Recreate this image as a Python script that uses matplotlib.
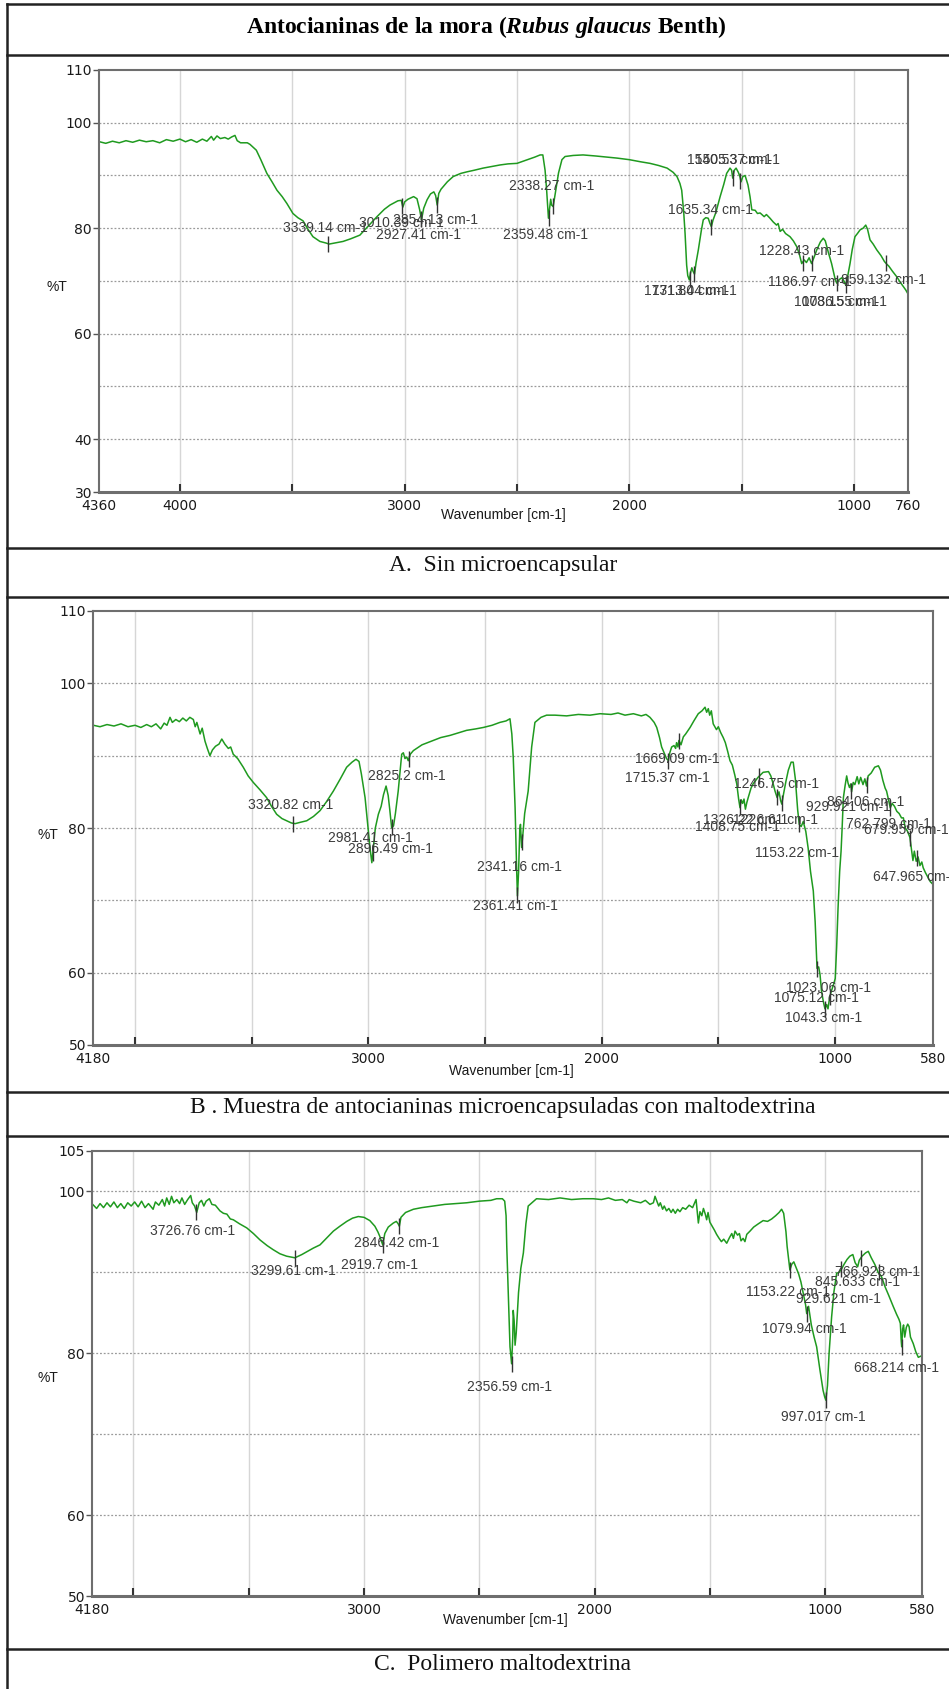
import numpy as np
import matplotlib.pyplot as plt
from matplotlib.transforms import Affine2D
from matplotlib.lines import Line2D

# espectro A - sin microencapsular
wn_a = [4358, 4330, 4300, 4270, 4240, 4210, 4180, 4150, 4120, 4090, 4060, 4030, 4000, 3975, 3950,
        3925, 3900, 3880, 3860, 3850, 3835, 3820, 3800, 3785, 3770, 3755, 3745, 3730, 3700, 3688,
        3660, 3640, 3613, 3590, 3568, 3545, 3524, 3497, 3475, 3452, 3430, 3408, 3377, 3350, 3336,
        3300, 3274, 3240, 3199, 3160, 3123, 3090, 3065, 3030, 3015, 3008, 3000, 2985, 2960, 2945,
        2933, 2925, 2915, 2900, 2885, 2870, 2862, 2855, 2848, 2838, 2810, 2784, 2750, 2722, 2690,
        2651, 2600, 2575, 2540, 2500, 2460, 2420, 2397, 2385, 2375, 2368, 2360, 2350, 2346, 2339,
        2330, 2315, 2300, 2286, 2250, 2206, 2150, 2100, 2055, 2000, 1950, 1908, 1870, 1832, 1805,
        1788, 1775, 1767, 1758, 1752, 1745, 1740, 1733, 1728, 1722, 1716, 1710, 1703, 1693, 1680,
        1671, 1660, 1649, 1642, 1635, 1628, 1615, 1596, 1580, 1567, 1552, 1545, 1540, 1533, 1525,
        1515, 1508, 1503, 1495, 1485, 1472, 1463, 1455, 1440, 1430, 1418, 1400, 1390, 1374, 1360,
        1345, 1338, 1329, 1318, 1305, 1285, 1270, 1255, 1243, 1233, 1222, 1212, 1200, 1189, 1178,
        1166, 1150, 1137, 1128, 1115, 1100, 1085, 1077, 1065, 1055, 1045, 1037, 1028, 1018, 1008,
        996, 985, 973, 960, 948, 940, 929, 915, 899, 880, 865, 857, 845, 830, 810,
        795, 780, 770, 762]
t_a = [96.4, 96.1, 96.5, 96.2, 96.6, 96.3, 96.7, 96.4, 96.6, 96.2, 96.8, 96.5, 96.9, 96.4, 96.8,
       96.3, 96.9, 96.5, 97.4, 96.7, 97.5, 97.0, 97.2, 96.9, 97.3, 97.6, 96.6, 96.2, 96.2, 95.9,
       94.8, 93.0, 90.4, 88.8, 87.2, 86.0, 84.7, 82.8, 82.0, 81.4, 79.8, 78.4, 77.5, 77.2, 77.0,
       77.3, 77.5, 78.0, 78.7, 80.5, 82.2, 83.6, 84.4, 85.2, 85.3, 84.0, 85.0, 85.5, 86.0, 85.6,
       83.5, 81.6, 83.8, 85.4, 86.5, 86.9, 86.2, 84.4, 86.6, 87.4, 88.8, 89.8, 90.4, 90.7, 91.0,
       91.4, 91.8, 92.0, 92.2, 92.3, 92.9, 93.5, 93.9, 93.9, 91.0, 87.2, 81.9, 85.5, 84.4, 84.1,
       86.5, 90.5, 93.0, 93.6, 93.8, 93.9, 93.7, 93.5, 93.3, 93.0, 92.6, 92.3, 91.9, 91.4, 90.6,
       89.8, 88.5, 87.2, 83.0, 79.0, 73.0, 71.0, 70.2, 71.5, 72.5, 71.8, 71.3, 73.5, 75.9, 79.5,
       81.6, 82.0, 81.9, 81.0, 80.3, 81.5, 83.0, 86.0, 88.3, 90.4, 91.4, 91.0, 89.5, 91.0, 91.4,
       90.6, 89.8, 88.8, 89.8, 90.0, 88.2, 86.0, 83.5, 83.4, 82.8, 82.9, 82.2, 82.6, 81.9, 81.2,
       80.6, 80.9, 79.4, 79.8, 79.0, 78.4, 77.6, 76.5, 75.0, 73.3, 74.0, 73.5, 74.4, 73.3, 74.5,
       75.9, 77.4, 78.1, 77.6, 75.5, 73.3, 70.5, 69.6, 70.3, 70.6, 70.0, 69.2, 71.0, 73.3, 76.0,
       78.4, 79.0, 79.7, 80.0, 80.6, 79.8, 77.8, 77.0, 75.9, 74.8, 73.7, 73.3, 72.8, 71.9, 70.8,
       69.8, 68.9, 68.3, 67.7]

# espectro B - microencapsulado con maltodextrina
wn_b = [4178, 4150, 4120, 4090, 4060, 4030, 4000, 3975, 3950, 3930, 3910, 3890, 3875, 3863, 3850,
        3840, 3825, 3810, 3795, 3780, 3765, 3750, 3742, 3735, 3721, 3712, 3700, 3690, 3679, 3668,
        3655, 3640, 3628, 3615, 3600, 3590, 3579, 3560, 3536, 3515, 3493, 3465, 3436, 3415, 3393,
        3370, 3350, 3330, 3314, 3290, 3264, 3235, 3207, 3180, 3150, 3120, 3093, 3070, 3053, 3040,
        3030, 3014, 3000, 2993, 2985, 2978, 2970, 2957, 2945, 2935, 2924, 2915, 2908, 2900, 2892,
        2884, 2872, 2857, 2850, 2843, 2835, 2829, 2820, 2807, 2770, 2722, 2690, 2650, 2610, 2579,
        2540, 2507, 2470, 2436, 2410, 2393, 2385, 2379, 2371, 2365, 2361, 2356, 2351, 2348, 2343,
        2338, 2330, 2315, 2300, 2286, 2260, 2236, 2200, 2150, 2100, 2050, 2007, 1960, 1930, 1900,
        1864, 1830, 1810, 1793, 1775, 1764, 1752, 1743, 1730, 1722, 1714, 1708, 1700, 1690, 1683,
        1679, 1673, 1669, 1660, 1650, 1640, 1621, 1605, 1586, 1570, 1557, 1550, 1543, 1537, 1530,
        1522, 1515, 1508, 1500, 1490, 1479, 1470, 1460, 1450, 1440, 1430, 1421, 1413, 1407, 1402,
        1396, 1390, 1384, 1378, 1372, 1360, 1351, 1330, 1308, 1285, 1275, 1265, 1257, 1248, 1240,
        1233, 1228, 1220, 1210, 1200, 1188, 1179, 1170, 1160, 1153, 1145, 1136, 1125, 1115, 1105,
        1093, 1085, 1077, 1070, 1064, 1058, 1050, 1043, 1036, 1030, 1023, 1015, 1005, 999, 993,
        987, 980, 974, 970, 964, 957, 950, 944, 938, 932, 929, 922, 915, 905, 898,
        890, 880, 872, 865, 858, 845, 830, 814, 805, 795, 785, 779, 770, 763, 755,
        745, 735, 725, 715, 707, 699, 690, 679, 672, 666, 660, 652, 644, 636, 628,
        622, 612, 602, 592, 580]
t_b = [94.2, 94.0, 94.3, 94.1, 94.4, 94.0, 94.2, 93.9, 94.3, 94.0, 94.4, 93.7, 94.5, 94.2, 95.3,
       94.6, 95.0, 94.7, 95.2, 94.8, 95.3, 95.0, 94.0, 94.6, 93.0, 93.8, 92.0, 91.0, 90.0, 90.8,
       91.3, 91.6, 92.3, 91.6, 91.0, 91.2, 90.2, 89.6, 88.4, 87.2, 86.3, 85.3, 84.2, 83.0, 81.9,
       81.3, 81.0, 80.7, 80.6, 80.8, 81.0, 81.6, 82.4, 83.6, 85.1, 86.8, 88.4, 89.1, 89.5, 89.2,
       87.5, 84.2, 79.6, 77.3, 75.2, 77.5, 80.0, 81.9, 83.0, 84.6, 85.8, 84.5, 82.5, 80.0, 80.3,
       82.0, 85.1, 90.2, 90.4, 89.6, 89.8, 89.3, 90.2, 90.7, 91.5, 92.1, 92.5, 92.8, 93.2, 93.5,
       93.7, 93.9, 94.2, 94.6, 94.8, 95.1, 93.0, 89.8, 82.8, 75.0, 70.6, 74.0, 79.8, 80.5, 77.3,
       79.0, 82.0, 85.1, 91.2, 94.6, 95.3, 95.6, 95.6, 95.5, 95.7, 95.6, 95.8, 95.7, 95.9, 95.6,
       95.8, 95.5, 95.7, 95.3, 94.6, 93.9, 92.5, 91.2, 90.2, 89.6, 89.3, 90.4, 91.2, 91.4, 91.0,
       91.8, 91.2, 92.1, 91.5, 92.6, 93.0, 93.9, 94.8, 95.8, 96.2, 96.7, 96.0, 96.5, 95.6, 96.2,
       94.4, 94.0, 93.6, 94.0, 93.2, 92.5, 91.8, 90.6, 89.3, 88.7, 87.4, 86.1, 84.0, 82.8, 83.9,
       83.4, 84.0, 82.6, 83.5, 84.2, 85.5, 86.1, 87.0, 87.7, 87.8, 87.2, 86.1, 85.1, 84.2, 85.0,
       83.8, 83.3, 84.8, 86.5, 88.0, 89.1, 89.1, 86.8, 82.5, 80.5, 80.2, 80.9, 79.5, 77.2, 74.0,
       71.3, 67.0, 60.6, 60.8, 59.7, 57.5, 56.0, 55.0, 55.6, 55.0, 56.6, 57.5, 58.5, 59.2, 63.5,
       68.9, 74.0, 76.8, 79.6, 84.2, 85.8, 87.2, 86.2, 85.6, 86.1, 85.0, 86.3, 86.0, 87.1, 86.1,
       87.0, 86.0, 86.8, 85.8, 87.2, 87.6, 88.4, 88.6, 88.0, 86.6, 85.5, 85.1, 83.8, 82.8, 83.4,
       83.0, 82.3, 82.0, 81.4, 81.4, 80.0, 79.6, 78.7, 77.0, 75.5, 76.8, 75.4, 76.0, 74.8, 75.3,
       74.5, 73.8, 73.2, 72.6, 72.2]

# espectro C - polimero maltodextrina
wn_c = [4177, 4160, 4145, 4130, 4115, 4100, 4085, 4070, 4055, 4040, 4025, 4010, 3995, 3980, 3965,
        3950, 3935, 3915, 3905, 3890, 3875, 3865, 3856, 3845, 3835, 3825, 3812, 3800, 3790, 3778,
        3765, 3752, 3745, 3735, 3726, 3715, 3705, 3695, 3685, 3671, 3660, 3645, 3625, 3610, 3595,
        3580, 3567, 3540, 3509, 3480, 3451, 3420, 3394, 3365, 3336, 3300, 3270, 3245, 3220, 3191,
        3160, 3133, 3105, 3075, 3050, 3025, 3000, 2975, 2953, 2940, 2931, 2919, 2910, 2895, 2873,
        2860, 2852, 2847, 2840, 2820, 2786, 2750, 2700, 2650, 2600, 2555, 2500, 2450, 2425, 2400,
        2390, 2384, 2381, 2374, 2367, 2360, 2355, 2353, 2349, 2345, 2340, 2330, 2320, 2309, 2298,
        2288, 2252, 2200, 2150, 2100, 2050, 2006, 1970, 1940, 1910, 1880, 1860, 1850, 1830, 1800,
        1780, 1760, 1745, 1738, 1730, 1722, 1715, 1705, 1698, 1688, 1678, 1668, 1660, 1650, 1640,
        1630, 1618, 1605, 1590, 1575, 1560, 1550, 1543, 1535, 1528, 1520, 1514, 1508, 1500, 1490,
        1480, 1471, 1460, 1450, 1440, 1427, 1415, 1405, 1398, 1391, 1380, 1372, 1365, 1356, 1348,
        1340, 1326, 1310, 1290, 1269, 1250, 1232, 1215, 1200, 1189, 1180, 1170, 1165, 1153, 1145,
        1136, 1125, 1115, 1105, 1092, 1085, 1080, 1072, 1060, 1048, 1037, 1023, 1009, 1002, 997,
        990, 983, 972, 962, 950, 940, 929, 918, 905, 893, 880, 870, 859, 852, 840,
        825, 813, 800, 785, 770, 756, 740, 725, 705, 690, 680, 674, 670, 668, 664,
        660, 655, 648, 642, 636, 630, 618, 607, 596, 581]
t_c = [98.4, 97.9, 98.5, 98.0, 98.6, 98.1, 98.7, 98.0, 98.5, 97.9, 98.6, 98.2, 98.7, 98.1, 98.8,
       98.0, 98.5, 97.8, 98.7, 98.3, 99.0, 98.2, 99.2, 98.4, 99.4, 98.6, 99.0, 98.5, 99.2, 98.4,
       99.0, 99.5, 98.6, 98.2, 97.4, 98.6, 98.9, 98.2, 98.8, 99.1, 98.4, 98.3, 97.6, 97.3, 97.2,
       96.6, 96.5, 96.0, 95.5, 94.8, 94.0, 93.3, 92.8, 92.3, 92.0, 91.8, 92.2, 92.6, 93.0, 93.4,
       94.3, 95.1, 95.7, 96.3, 96.7, 96.9, 96.8, 96.4, 95.7, 95.0, 94.4, 93.4, 94.8, 95.6, 96.1,
       96.3, 96.0, 95.7, 96.8, 97.4, 97.8, 98.0, 98.2, 98.4, 98.5, 98.6, 98.8, 98.9, 99.1, 99.1,
       98.8, 97.0, 93.2, 87.0, 80.8, 78.7, 82.0, 85.3, 84.0, 81.0, 82.5, 87.5, 90.5, 92.4, 96.0,
       98.2, 99.1, 99.0, 99.2, 99.0, 99.1, 99.1, 99.0, 99.2, 98.9, 99.0, 98.6, 99.0, 98.8, 98.6,
       98.9, 98.4, 98.6, 99.4, 98.8, 98.2, 98.6, 97.8, 98.2, 97.6, 97.9, 97.4, 97.8, 97.3, 97.8,
       97.5, 98.0, 97.8, 98.3, 98.0, 99.0, 96.1, 97.5, 97.0, 97.9, 97.2, 96.5, 97.4, 96.2, 95.7,
       95.2, 94.7, 94.2, 93.8, 94.1, 93.6, 94.3, 94.8, 94.2, 95.1, 94.6, 94.8, 93.9, 94.2, 93.8,
       94.7, 95.1, 95.6, 96.0, 96.4, 96.3, 96.6, 97.0, 97.4, 97.8, 97.3, 95.0, 93.2, 90.3, 91.0,
       91.3, 90.5, 89.8, 88.8, 87.0, 86.0, 84.9, 85.8, 83.5, 82.0, 80.8, 78.0, 75.4, 74.6, 74.2,
       76.0, 80.0, 84.5, 87.6, 89.9, 90.0, 90.4, 91.0, 91.6, 92.0, 92.2, 91.2, 90.7, 91.5, 92.0,
       92.4, 92.6, 91.8, 91.0, 90.0, 89.5, 88.2, 87.2, 85.8, 84.8, 84.2, 83.7, 81.5, 80.8, 83.0,
       83.5, 82.0, 83.2, 83.6, 83.3, 82.0, 81.2, 80.2, 79.5, 79.7]

# picos marcados (numero de onda, %T)
picos_a = [(3339.14, 77.1), (3010.39, 84.3), (2927.41, 81.8), (2854.13, 84.5), (2359.48, 82.0),
           (2338.27, 84.2), (1731.84, 70.3), (1713.04, 71.4), (1635.34, 80.3), (1540.53, 89.5),
           (1505.37, 88.9), (1228.43, 73.4), (1186.97, 73.4), (1078.15, 69.7), (1036.55, 69.3),
           (859.132, 73.4)]
picos_b = [(3320.82, 80.6), (2981.41, 76.5), (2896.49, 80.1), (2825.2, 89.6), (2361.41, 70.8),
           (2341.16, 78.0), (1715.37, 89.3), (1669.09, 92.0), (1408.75, 82.9), (1326.22, 87.2),
           (1246.75, 84.3), (1226.61, 83.4), (1153.22, 80.5), (1075.12, 60.5), (1043.3, 55.0),
           (1023.06, 56.6), (929.921, 85.1), (864.06, 85.9), (762.799, 82.8), (679.959, 78.6),
           (647.965, 75.8)]
picos_c = [(3726.76, 97.4), (3299.61, 91.8), (2919.7, 93.4), (2846.42, 95.7), (2356.59, 78.7),
           (1153.22, 90.3), (1079.94, 84.9), (997.017, 74.2), (929.621, 90.4), (845.633, 91.8),
           (766.923, 90.1), (668.214, 80.8)]

# posicion de las etiquetas en pixeles de la imagen (x, y desde arriba)
pos_a = [(325, 228), (401, 223), (419, 235), (436, 220), (546, 235), (552, 186), (686, 291),
         (694, 291), (710, 210), (729, 160), (737, 160), (802, 251), (810, 282), (836, 302),
         (844, 302), (883, 280)]
pos_b = [(291, 805), (370, 838), (390, 849), (407, 776), (515, 906), (519, 867), (667, 778),
         (677, 759), (737, 827), (746, 820), (777, 784), (776, 820), (797, 853), (816, 998),
         (824, 1018), (829, 988), (848, 807), (866, 802), (888, 824), (906, 830), (915, 877)]
pos_c = [(193, 1231), (293, 1271), (380, 1265), (397, 1243), (510, 1387), (788, 1292),
         (804, 1329), (823, 1417), (838, 1299), (858, 1282), (878, 1272), (897, 1368)]

W, H = 949, 1689
plt.rcParams['mathtext.fontset'] = 'custom'
plt.rcParams['mathtext.rm'] = 'Liberation Serif:bold'
plt.rcParams['mathtext.it'] = 'Liberation Serif:italic:bold'

fig = plt.figure(figsize=(W / 100, H / 100), dpi=100)
pix = Affine2D().scale(1 / W, -1 / H).translate(0, 1) + fig.transFigure

verde = '#1f9a1f'
gris = '#3c3c3c'


def caja(l, t, r, b):
    return [l / W, 1 - b / H, (r - l) / W, (b - t) / H]


def ejes(box, xlim, ylim, xlab, ylab, ygrid):
    ax = fig.add_axes(caja(*box))
    ax.set_xlim(xlim)
    ax.set_ylim(ylim)
    ax.xaxis.remove_overlapping_locs = False
    ax.yaxis.remove_overlapping_locs = False
    ax.set_xticks(xlab)
    ax.set_xticklabels([str(v) for v in xlab])
    ax.set_xticks(np.arange(1000, 4001, 500), minor=True)
    ax.set_yticks(ylab)
    ax.set_yticklabels([str(v) for v in ylab])
    ax.set_yticks(ygrid, minor=True)
    ax.tick_params(axis='x', which='major', length=0, pad=5, labelsize=10, labelcolor='#1a1a1a')
    ax.tick_params(axis='x', which='minor', direction='in', length=6, width=1.5, color='#333333')
    ax.tick_params(axis='y', which='major', direction='out', length=4, width=1, pad=1,
                   labelsize=10, labelcolor='#1a1a1a', color='#555555')
    ax.tick_params(axis='y', which='minor', length=0)
    ax.grid(axis='x', which='minor', color='#d6d6d6', lw=1, ls='-')
    ax.grid(axis='y', which='minor', color='#9a9a9a', lw=0.9, ls=(0, (1.5, 1.5)))
    ax.set_axisbelow(True)
    for s in ax.spines.values():
        s.set_color('#6e6e6e')
        s.set_linewidth(1.5)
    ax.spines['bottom'].set_linewidth(2.2)
    return ax


def dibujar(ax, wn, t, picos, pos):
    ax.plot(wn, t, color=verde, lw=1.1)
    pw = [p[0] for p in picos]
    pt = [p[1] for p in picos]
    ax.plot(pw, pt, ls='none', marker='|', ms=11, mew=1, color='#333333')
    for (w, _), (x, y) in zip(picos, pos):
        ax.text(x, y, f'{w:g} cm-1', transform=pix, ha='center', va='center',
                fontsize=10, color=gris, family='Liberation Sans')


ax_a = ejes((99, 70, 908, 492), (4360, 760), (30, 110), [4360, 4000, 3000, 2000, 1000, 760],
            [30, 40, 60, 80, 100, 110], [40, 50, 60, 70, 80, 90, 100])
dibujar(ax_a, wn_a, t_a, picos_a, pos_a)

ax_b = ejes((93, 611, 933, 1045), (4180, 580), (50, 110), [4180, 3000, 2000, 1000, 580],
            [50, 60, 80, 100, 110], [60, 70, 80, 90, 100])
dibujar(ax_b, wn_b, t_b, picos_b, pos_b)

ax_c = ejes((92, 1151, 922, 1596), (4180, 580), (50, 105), [4180, 3000, 2000, 1000, 580],
            [50, 60, 80, 100, 105], [60, 70, 80, 90, 100])
dibujar(ax_c, wn_c, t_c, picos_c, pos_c)

# textos de ejes
for (x, y) in [(57, 287), (48, 835), (48, 1378)]:
    fig.text(x, y, '%T', transform=pix, ha='center', va='center', fontsize=10,
             color='#1a1a1a', family='Liberation Sans')
for (x, y) in [(503, 515), (511, 1071), (505, 1620)]:
    fig.text(x, y, 'Wavenumber [cm-1]', transform=pix, ha='center', va='center',
             fontsize=10, color='#1a1a1a', family='Liberation Sans')

# tabla: lineas y titulos
for y in [4, 55, 548, 597, 1092, 1136, 1649]:
    fig.add_artist(Line2D([7, W], [y, y], transform=pix, color='#222222', lw=1.8))
fig.add_artist(Line2D([7, 7], [4, H], transform=pix, color='#222222', lw=1.8))

fig.text(486, 27, r'Antocianinas de la mora ($\mathit{Rubus\ glaucus}$ Benth)', transform=pix,
         ha='center', va='center', fontsize=17, fontweight='bold', family='Liberation Serif')
capt = [('A.  Sin microencapsular', 565),
        ('B . Muestra de antocianinas microencapsuladas con maltodextrina', 1108),
        ('C.  Polimero maltodextrina', 1665)]
for txt, y in capt:
    fig.text(503, y, txt, transform=pix, ha='center', va='center', fontsize=17,
             family='Liberation Serif', color='#111111')

fig.savefig('out.png', dpi=100)
